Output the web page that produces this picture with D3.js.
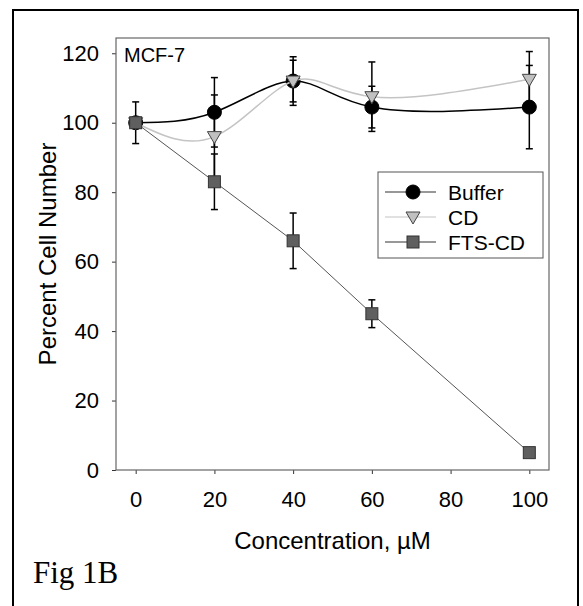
<!DOCTYPE html>
<html>
<head>
<meta charset="utf-8">
<script src="https://cdn.jsdelivr.net/npm/d3@7"></script>
<style>
  html, body { margin: 0; padding: 0; background: #fff; }
  svg { display: block; }
</style>
</head>
<body>
<div id="chart"></div>
<script>
// concentrations (uM)
const conc = [0, 20, 40, 60, 100];

const buffer    = [100, 103, 112, 104.5, 104.5];
const bufferErr = [6, 10, 7, 6, 12];
const cd        = [100, 96, 112, 107.5, 112.5];
const cdErr     = [0, 12, 6, 10, 8];
const fts       = [100, 83, 66, 45, 5];
const ftsErr    = [0, 8, 8, 4, 1];

const xTicks = [0, 20, 40, 60, 80, 100];
const yTicks = [0, 20, 40, 60, 80, 100, 120];

const W = 583, H = 606;
const pL = 116, pR = 549, pT = 38, pB = 470;

const svg = d3.select('#chart').append('svg')
  .attr('width', W).attr('height', H);

// outer figure border
svg.append('rect')
  .attr('x', 13).attr('y', 10).attr('width', 565).attr('height', 620)
  .attr('fill', 'none').attr('stroke', '#000').attr('stroke-width', 2);

const x = d3.scaleLinear().domain([-5, 105]).range([pL, pR]);
const y = d3.scaleLinear().domain([0, 124.4]).range([pB, pT]);

const font = 'Arial, "Liberation Sans", sans-serif';

// axes
const ax = svg.append('g').attr('transform', `translate(${pL},0)`)
  .call(d3.axisLeft(y).tickValues(yTicks).tickSize(4).tickPadding(13));
const bx = svg.append('g').attr('transform', `translate(0,${pB})`)
  .call(d3.axisBottom(x).tickValues(xTicks).tickSize(4).tickPadding(17));
[ax, bx].forEach(a => {
  a.select('.domain').remove();
  a.selectAll('line').attr('stroke', '#333');
  a.selectAll('text').attr('fill', '#000').style('font-family', font).style('font-size', '22px');
});

// plot frame
svg.append('rect')
  .attr('x', pL).attr('y', pT).attr('width', pR - pL).attr('height', pB - pT)
  .attr('fill', 'none').attr('stroke', '#666').attr('stroke-width', 1.2);

svg.append('text')
  .attr('x', 124).attr('y', 62)
  .style('font-family', font).style('font-size', '20px')
  .text('MCF-7');

svg.append('text')
  .attr('x', (pL + pR) / 2).attr('y', 549).attr('text-anchor', 'middle')
  .style('font-family', font).style('font-size', '24px')
  .text('Concentration, \u00b5M');

svg.append('text')
  .attr('transform', `translate(56,${(pT + pB) / 2}) rotate(-90)`)
  .attr('text-anchor', 'middle')
  .style('font-family', font).style('font-size', '24px')
  .text('Percent Cell Number');

svg.append('text')
  .attr('x', 33).attr('y', 583)
  .style('font-family', '"Liberation Serif", "Times New Roman", serif').style('font-size', '31px')
  .text('Fig 1B');

const series = [
  { name: 'Buffer', vals: buffer, err: bufferErr, line: '#000', lw: 1.5, curve: d3.curveNatural, shape: 'circle', fill: '#000', stroke: '#000' },
  { name: 'CD', vals: cd, err: cdErr, line: '#c4c4c4', lw: 1.5, curve: d3.curveNatural, shape: 'tri', fill: '#c0c0c0', stroke: '#444' },
  { name: 'FTS-CD', vals: fts, err: ftsErr, line: '#555', lw: 1, curve: d3.curveLinear, shape: 'square', fill: '#5f5f5f', stroke: '#333' }
];

function marker(g, s, cx, cy) {
  if (s.shape === 'circle') {
    g.append('circle').attr('cx', cx).attr('cy', cy).attr('r', 7)
      .attr('fill', s.fill).attr('stroke', s.stroke);
  } else if (s.shape === 'tri') {
    g.append('path')
      .attr('d', `M${cx - 7},${cy - 5} L${cx + 7},${cy - 5} L${cx},${cy + 7} Z`)
      .attr('fill', s.fill).attr('stroke', s.stroke).attr('stroke-width', 1);
  } else {
    g.append('rect').attr('x', cx - 6).attr('y', cy - 6).attr('width', 12).attr('height', 12)
      .attr('fill', s.fill).attr('stroke', s.stroke).attr('stroke-width', 1);
  }
}

const plot = svg.append('g');
series.forEach(s => {
  const pts = conc.map((c, i) => ({ c, v: s.vals[i], e: s.err[i] }));
  plot.append('path').datum(pts)
    .attr('fill', 'none').attr('stroke', s.line).attr('stroke-width', s.lw)
    .attr('d', d3.line().x(d => x(d.c)).y(d => y(d.v)).curve(s.curve));
  pts.filter(d => d.e > 0).forEach(d => {
    const px = x(d.c);
    plot.append('line').attr('x1', px).attr('x2', px)
      .attr('y1', y(d.v - d.e)).attr('y2', y(d.v + d.e))
      .attr('stroke', '#000').attr('stroke-width', 1.5);
    [d.v - d.e, d.v + d.e].forEach(v => {
      plot.append('line').attr('x1', px - 3.5).attr('x2', px + 3.5)
        .attr('y1', y(v)).attr('y2', y(v))
        .attr('stroke', '#000').attr('stroke-width', 1.5);
    });
  });
  pts.forEach(d => marker(plot, s, x(d.c), y(d.v)));
});

// legend
const lg = svg.append('g');
lg.append('rect').attr('x', 378).attr('y', 172).attr('width', 165).attr('height', 86)
  .attr('fill', '#fff').attr('stroke', '#555').attr('stroke-width', 1);
series.forEach((s, i) => {
  const ly = 192 + i * 25;
  lg.append('line').attr('x1', 385).attr('x2', 436).attr('y1', ly).attr('y2', ly)
    .attr('stroke', s.shape === 'tri' ? s.line : '#333').attr('stroke-width', 1.2);
  marker(lg, s, 413, ly);
  lg.append('text').attr('x', 448).attr('y', ly + 7.5)
    .style('font-family', font).style('font-size', '21px')
    .text(s.name);
});
</script>
</body>
</html>
